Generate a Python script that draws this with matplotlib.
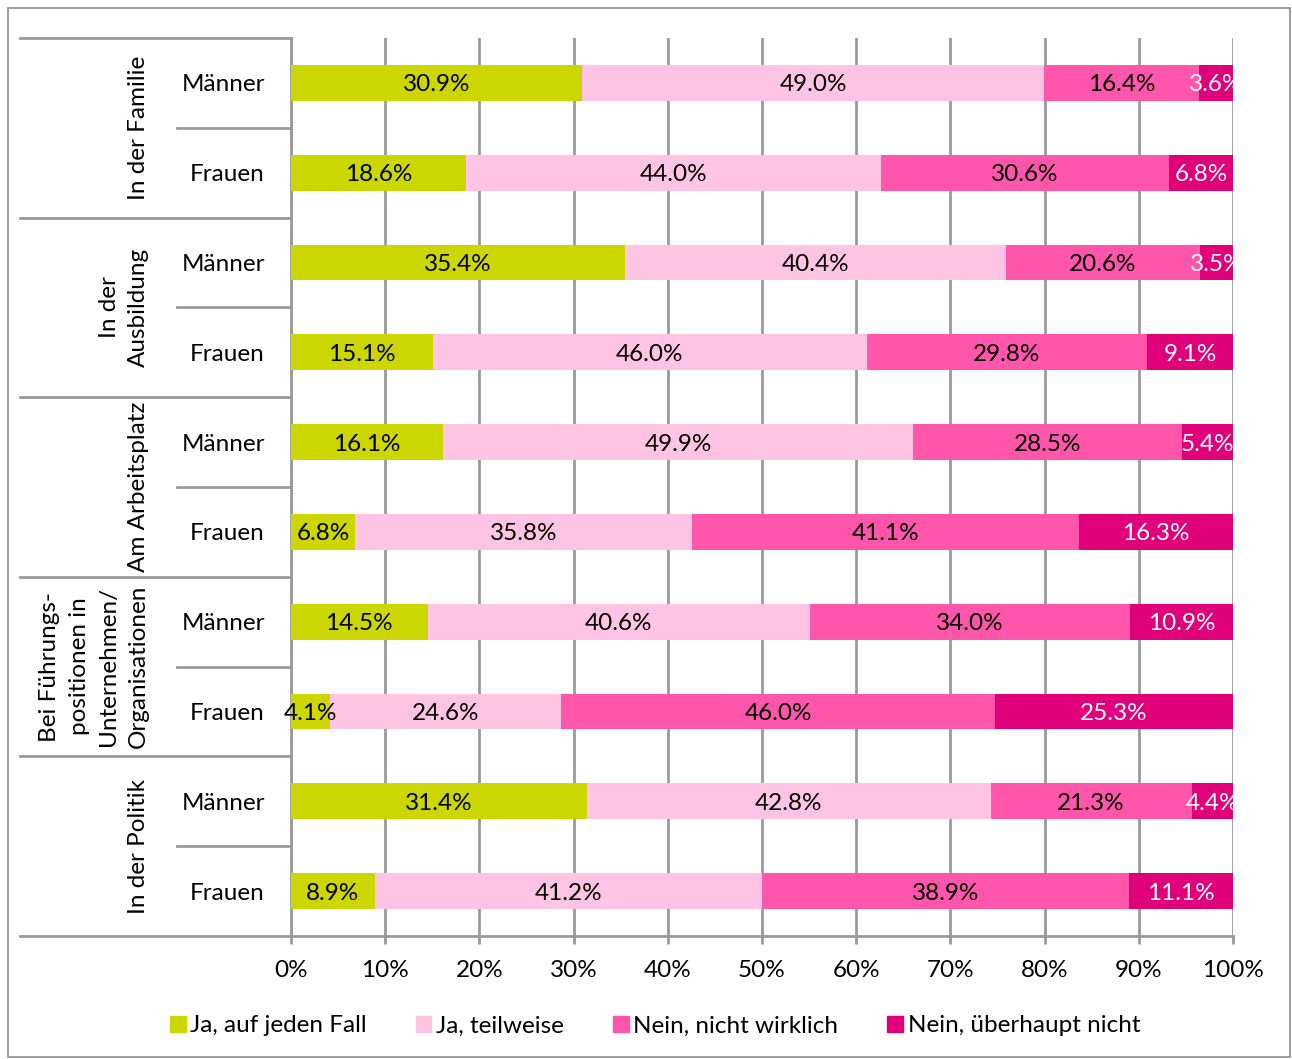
import matplotlib.pyplot as plt
import matplotlib.patches as mpatches
from matplotlib.transforms import Bbox, TransformedBbox

plt.rcParams['font.family'] = ['Lato', 'DejaVu Sans']

# Data (percent per row, rows top to bottom)
groups = ['In der Familie', 'In der\nAusbildung', 'Am Arbeitsplatz',
          'Bei Führungs-\npositionen in\nUnternehmen/\nOrganisationen', 'In der Politik']
sexes = ['Männer', 'Frauen']
series = ['Ja, auf jeden Fall', 'Ja, teilweise', 'Nein, nicht wirklich', 'Nein, überhaupt nicht']
ja_jeden_fall = [30.9, 18.6, 35.4, 15.1, 16.1, 6.8, 14.5, 4.1, 31.4, 8.9]
ja_teilweise = [49.0, 44.0, 40.4, 46.0, 49.9, 35.8, 40.6, 24.6, 42.8, 41.2]
nein_nicht_wirklich = [16.4, 30.6, 20.6, 29.8, 28.5, 41.1, 34.0, 46.0, 21.3, 38.9]
nein_ueberhaupt = [3.6, 6.8, 3.5, 9.1, 5.4, 16.3, 10.9, 25.3, 4.4, 11.1]

colors = ['#CCD600', '#FFC4E4', '#FF55AA', '#E0007A']
text_colors = ['black', 'black', 'black', 'white']

values = [ja_jeden_fall, ja_teilweise, nein_nicht_wirklich, nein_ueberhaupt]
n_rows = len(ja_jeden_fall)

fig = plt.figure(figsize=(12.92, 10.59), dpi=100)
ax = fig.add_axes([291 / 1292, 1 - 936 / 1059, 942 / 1292, 898 / 1059])

# outer frame
fig.patches.append(mpatches.Rectangle((8 / 1292, 2 / 1059), 1282 / 1292, 1049 / 1059,
                                      transform=fig.transFigure, fill=False,
                                      edgecolor='#8c8c8c', linewidth=1.2))

clip = TransformedBbox(Bbox([[-0.2, 0], [1, 1]]), ax.transAxes)
fs = 17.5

for i in range(n_rows):
    total = sum(v[i] for v in values)
    left = 0.0
    for k, v in enumerate(values):
        w = v[i] / total
        ax.barh(i + 0.5, w, left=left, height=0.4, color=colors[k], zorder=3)
        t = ax.text(left + w / 2, i + 0.5, f'{v[i]:.1f}%', ha='center', va='center_baseline',
                    fontsize=fs, color=text_colors[k], zorder=4)
        t.set_clip_box(clip)
        t.set_clip_on(True)
        left += w

ax.set_ylim(n_rows, 0)
ax.set_xlim(0, 1)
ax.set_yticks([])
ax.set_xticks([i / 10 for i in range(11)])
ax.set_xticklabels([f'{i * 10}%' for i in range(11)], fontsize=fs)
ax.xaxis.grid(True, color='#999999', linewidth=2, zorder=0)
ax.set_axisbelow(True)
ax.tick_params(axis='x', length=6, width=2, color='#999999', pad=11, direction='out')
for s in ['top', 'right']:
    ax.spines[s].set_visible(False)
for s in ['left', 'bottom']:
    ax.spines[s].set_color('#999999')
    ax.spines[s].set_linewidth(2)

# left label table
x_far = (20 - 291) / 942
x_sub = (177 - 291) / 942
for g in range(len(groups) + 1):
    ax.plot([x_far, 0], [g * 2, g * 2], color='#999999', lw=2, clip_on=False,
            transform=ax.get_yaxis_transform(), zorder=5)
for g in range(len(groups)):
    ax.plot([x_sub, 0], [g * 2 + 1, g * 2 + 1], color='#999999', lw=2, clip_on=False,
            transform=ax.get_yaxis_transform(), zorder=5)
    ax.text((149 - 291) / 942, g * 2 + 1, groups[g], rotation=90, ha='right', va='center',
            multialignment='center', linespacing=1.5, fontsize=fs,
            transform=ax.get_yaxis_transform(), clip_on=False)
    for j, s in enumerate(sexes):
        ax.text((265 - 291) / 942, g * 2 + j + 0.5, s, ha='right', va='center_baseline',
                fontsize=fs, transform=ax.get_yaxis_transform(), clip_on=False)

handles = [mpatches.Patch(color=c, label=l) for c, l in zip(colors, series)]
fig.legend(handles=handles, loc='center', bbox_to_anchor=(655 / 1292, 1 - 1026 / 1059),
           ncol=4, frameon=False, fontsize=fs, handlelength=0.65, handleheight=0.65,
           handletextpad=0.2, columnspacing=2.0)

plt.savefig('out.png', dpi=100)
